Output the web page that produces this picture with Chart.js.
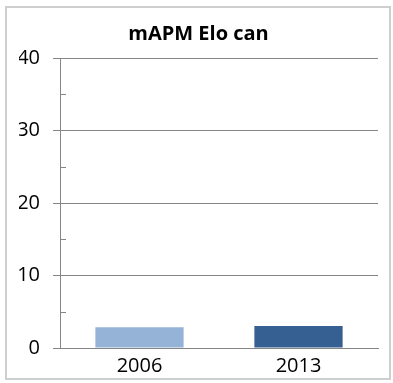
<!DOCTYPE html>
<html>
<head>
<meta charset="utf-8">
<script src="https://cdn.jsdelivr.net/npm/chart.js@4.4.1/dist/chart.umd.min.js"></script>
<style>
    html, body { margin: 0; padding: 0; background: #ffffff; }
    .ramme { position: relative; width: 393px; height: 383px; overflow: hidden; }
    .kant {
        position: absolute; left: 5px; top: 6px; width: 386px; height: 374px;
        border: 2px solid #cfcfcf; box-sizing: border-box; pointer-events: none;
    }
    canvas { display: block; }
</style>
</head>
<body>
<div class="ramme">
    <canvas id="graf" width="393" height="383"></canvas>
    <div class="kant"></div>
</div>
<script>
/* data */
const aar = ['2006', '2013'];
const vaerdier = [2.85, 3.05];
const farver = ['#95B3D7', '#376092'];
const hovedTicks = [0, 10, 20, 30, 40];
const mellemTicks = [5, 15, 25, 35];

const gitterFarve = '#868686';
const skrift = "'Open Sans', 'Liberation Sans', sans-serif";

/* tegner de små mellem-ticks på indersiden af y-aksen */
const mellemTickPlugin = {
    id: 'mellemTicks',
    afterDraw(chart) {
        const y = chart.scales.y;
        const ctx = chart.ctx;
        ctx.save();
        ctx.strokeStyle = gitterFarve;
        ctx.lineWidth = 1;
        for (let i = 0; i < mellemTicks.length; i++) {
            const py = Math.round(y.getPixelForValue(mellemTicks[i])) + 0.5;
            ctx.beginPath();
            ctx.moveTo(chart.chartArea.left, py);
            ctx.lineTo(chart.chartArea.left + 6, py);
            ctx.stroke();
        }
        ctx.restore();
    }
};

new Chart(document.getElementById('graf'), {
    type: 'bar',
    data: {
        labels: aar,
        datasets: [{
            data: vaerdier,
            backgroundColor: farver,
            borderWidth: 0,
            categoryPercentage: 1,
            barPercentage: 0.555
        }]
    },
    options: {
        responsive: false,
        animation: false,
        layout: { padding: { left: 19, right: 15, top: 0, bottom: 0 } },
        plugins: {
            legend: { display: false },
            tooltip: { enabled: false },
            title: {
                display: true,
                text: 'mAPM Elo can',
                color: '#000000',
                font: { family: skrift, size: 20, weight: 'bold' },
                padding: { top: 22, bottom: 12 }
            }
        },
        scales: {
            x: {
                grid: { display: false, drawTicks: false },
                border: { display: true, color: gitterFarve, width: 1 },
                ticks: { color: '#000000', font: { family: skrift, size: 20 }, padding: 6 },
                afterFit: (skala) => { skala.height = 35; }
            },
            y: {
                min: 0,
                max: 40,
                afterBuildTicks: (skala) => { skala.ticks = hovedTicks.map(v => ({ value: v })); },
                grid: { color: gitterFarve, tickColor: gitterFarve, tickLength: 7, lineWidth: 1 },
                border: { display: true, color: gitterFarve, width: 1 },
                ticks: { color: '#000000', font: { family: skrift, size: 20 }, padding: 13 },
                afterFit: (skala) => { skala.width = 41; }
            }
        }
    },
    plugins: [mellemTickPlugin]
});
</script>
</body>
</html>
